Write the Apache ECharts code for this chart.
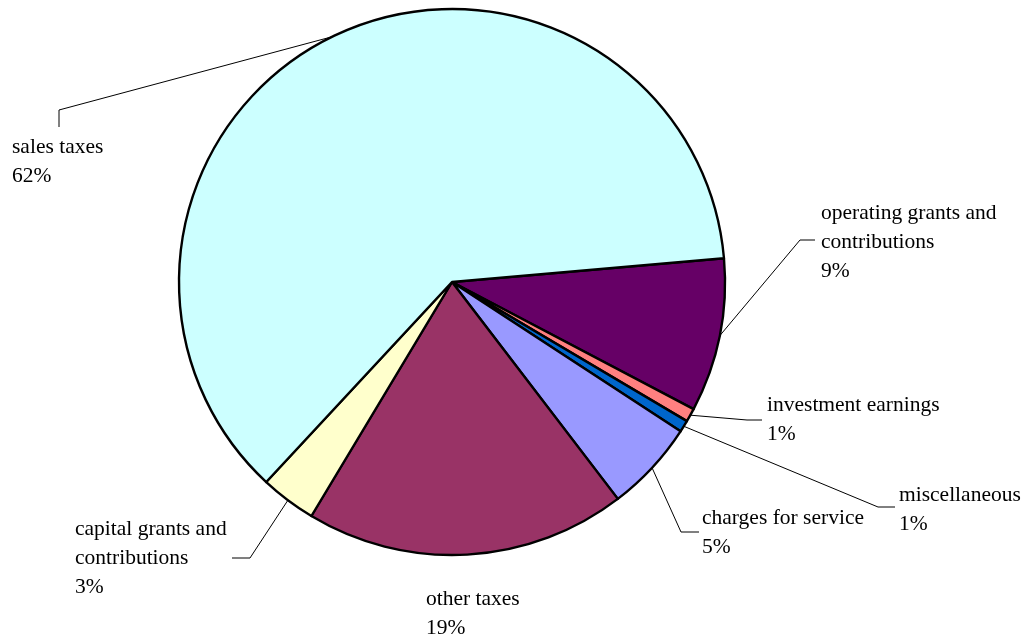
<!DOCTYPE html>
<html>
<head>
<meta charset="utf-8">
<script src="https://cdn.jsdelivr.net/npm/echarts@6/dist/echarts.min.js"></script>
<style>
  html, body { margin: 0; padding: 0; background: #fff; }
  #chart { width: 1028px; height: 637px; }
</style>
</head>
<body>
<div id="chart"></div>
<script>
// Revenue sources, share of total (%), listed clockwise from the 3 o'clock side
const categories = [
  'operating grants and\ncontributions',
  'investment earnings',
  'miscellaneous',
  'charges for service',
  'other taxes',
  'capital grants and\ncontributions',
  'sales taxes'
];
const shares = [9.1, 0.8, 0.7, 5.4, 19.0, 3.3, 61.7];
const colors = ['#660066', '#FF8080', '#0066CC', '#9999FF', '#993366', '#FFFFCC', '#CCFFFF'];

// Where each label block sits (top-left corner) and the bend points of its leader line
const labelSpots = [
  { x: 821, y: 199, bend: [[800, 240], [815, 240]] },
  { x: 767, y: 391, bend: [[747, 420], [762, 420]] },
  { x: 899, y: 481, bend: [[878, 507], [895, 507]] },
  { x: 702, y: 504, bend: [[681, 532], [699, 532]] },
  { x: 426, y: 585, bend: null },
  { x: 75,  y: 515, bend: [[250, 558], [232, 558]] },
  { x: 12,  y: 133, bend: [[59, 110], [59, 127]] }
];

const chart = echarts.init(document.getElementById('chart'), null, { renderer: 'canvas' });

const pieData = categories.map((name, i) => ({
  name: name,
  value: shares[i],
  itemStyle: { color: colors[i] },
  labelLine: { show: labelSpots[i].bend !== null }
}));

chart.setOption({
  animation: false,
  backgroundColor: '#ffffff',
  series: [{
    type: 'pie',
    center: [452, 282],
    radius: [0, 273],
    startAngle: 5,
    clockwise: true,
    avoidLabelOverlap: false,
    data: pieData,
    itemStyle: { borderColor: '#000000', borderWidth: 2.4 },
    emphasis: { disabled: true },
    label: {
      show: true,
      position: 'outside',
      color: '#000000',
      fontFamily: '"Liberation Serif", "Times New Roman", serif',
      fontSize: 21.5,
      lineHeight: 29,
      formatter: p => p.name + '\n' + Math.round(p.percent) + '%'
    },
    labelLine: {
      show: true,
      smooth: false,
      lineStyle: { color: '#000000', width: 1 }
    },
    labelLayout: params => {
      const spot = labelSpots[params.dataIndex];
      const out = { x: spot.x, y: spot.y, align: 'left', verticalAlign: 'top' };
      if (spot.bend && params.labelLinePoints) {
        out.labelLinePoints = [params.labelLinePoints[0], spot.bend[0], spot.bend[1]];
      }
      return out;
    }
  }]
});
</script>
</body>
</html>
